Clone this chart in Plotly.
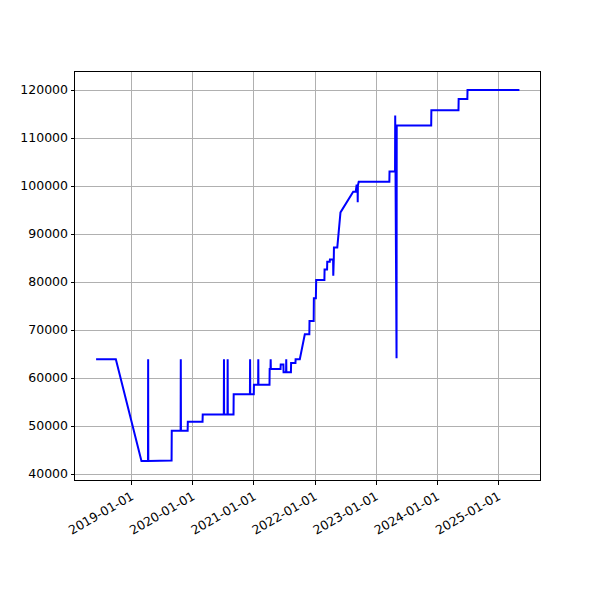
import plotly.graph_objects as go

dates = [
    "2018-06-03", "2018-09-29", "2019-03-01",
    "2019-04-09", "2019-04-10", "2019-04-11",
    "2019-08-28", "2019-08-29",
    "2019-10-21", "2019-10-22", "2019-10-23",
    "2019-12-02", "2019-12-03",
    "2020-02-29", "2020-03-01",
    "2020-07-05", "2020-07-06", "2020-07-07",
    "2020-07-27", "2020-07-28", "2020-07-29",
    "2020-09-01", "2020-09-02",
    "2020-12-08", "2020-12-09", "2020-12-10",
    "2020-12-31", "2021-01-01",
    "2021-01-26", "2021-01-27", "2021-01-28",
    "2021-04-04", "2021-04-05",
    "2021-04-10", "2021-04-11", "2021-04-12",
    "2021-06-09", "2021-06-10",
    "2021-06-26", "2021-06-27",
    "2021-07-12", "2021-07-13", "2021-07-14",
    "2021-08-10", "2021-08-11",
    "2021-09-06", "2021-09-07",
    "2021-10-02", "2021-11-01",
    "2021-11-28", "2021-11-29",
    "2021-12-24", "2021-12-25",
    "2022-01-06", "2022-01-08",
    "2022-02-26", "2022-02-27",
    "2022-03-14", "2022-03-15",
    "2022-03-30", "2022-03-31",
    "2022-04-19", "2022-04-20", "2022-04-21",
    "2022-04-23", "2022-04-24",
    "2022-05-14", "2022-06-02",
    "2022-08-17", "2022-09-01", "2022-09-06",
    "2022-09-12", "2022-09-13", "2022-09-14", "2022-09-19",
    "2023-03-21", "2023-03-22",
    "2023-04-24", "2023-04-25", "2023-05-03", "2023-05-04",
    "2023-11-26", "2023-11-27",
    "2024-05-07", "2024-05-08",
    "2024-06-29", "2024-06-30",
    "2025-05-06",
]

values = [
    63900, 63900, 42700,
    42700, 63900, 42700,
    42800, 49000,
    49000, 63900, 49000,
    49000, 50900,
    50900, 52400,
    52400, 63900, 52400,
    52400, 63900, 52400,
    52400, 56600,
    56600, 63900, 56600,
    56600, 58600,
    58600, 63900, 58600,
    58600, 61900,
    61900, 63900, 61900,
    61900, 62800,
    62800, 61200,
    61200, 63900, 61200,
    61200, 63100,
    63100, 63900,
    63900, 69100,
    69100, 71900,
    71900, 76600,
    76600, 80400,
    80400, 82600,
    82600, 84200,
    84200, 84700,
    84700, 81300, 84700,
    84700, 87200,
    87200, 94500,
    98800, 98800, 100100,
    100100, 96600, 100100, 100900,
    100900, 103000,
    103000, 114700, 64100, 112600,
    112600, 115800,
    115800, 118100,
    118100, 120000,
    120000,
]

x_range = ["2018-01-28", "2025-09-06"]
y_range = [38750, 123750]

fig = go.Figure()
fig.add_trace(go.Scatter(
    x=dates, y=values, mode="lines",
    line=dict(color="#0000ff", width=2),
    showlegend=False,
))

axis_common = dict(
    showline=True, linecolor="black", linewidth=1, mirror=True,
    ticks="outside", ticklen=3.5, tickwidth=1, tickcolor="black",
    showgrid=True, gridcolor="#b0b0b0", gridwidth=1,
    zeroline=False,
    tickfont=dict(family="DejaVu Sans", size=12.5, color="black"),
)

fig.update_layout(
    width=592, height=592,
    margin=dict(l=67, r=60, t=64, b=120),
    paper_bgcolor="white", plot_bgcolor="white",
    xaxis=dict(
        type="date", range=x_range,
        tick0="2019-01-01", dtick="M12", tickformat="%Y-%m-%d",
        tickangle=-30, **axis_common,
    ),
    yaxis=dict(
        range=y_range, tick0=40000, dtick=10000, tickformat="d",
        **axis_common,
    ),
)

fig.write_html("out.html")
